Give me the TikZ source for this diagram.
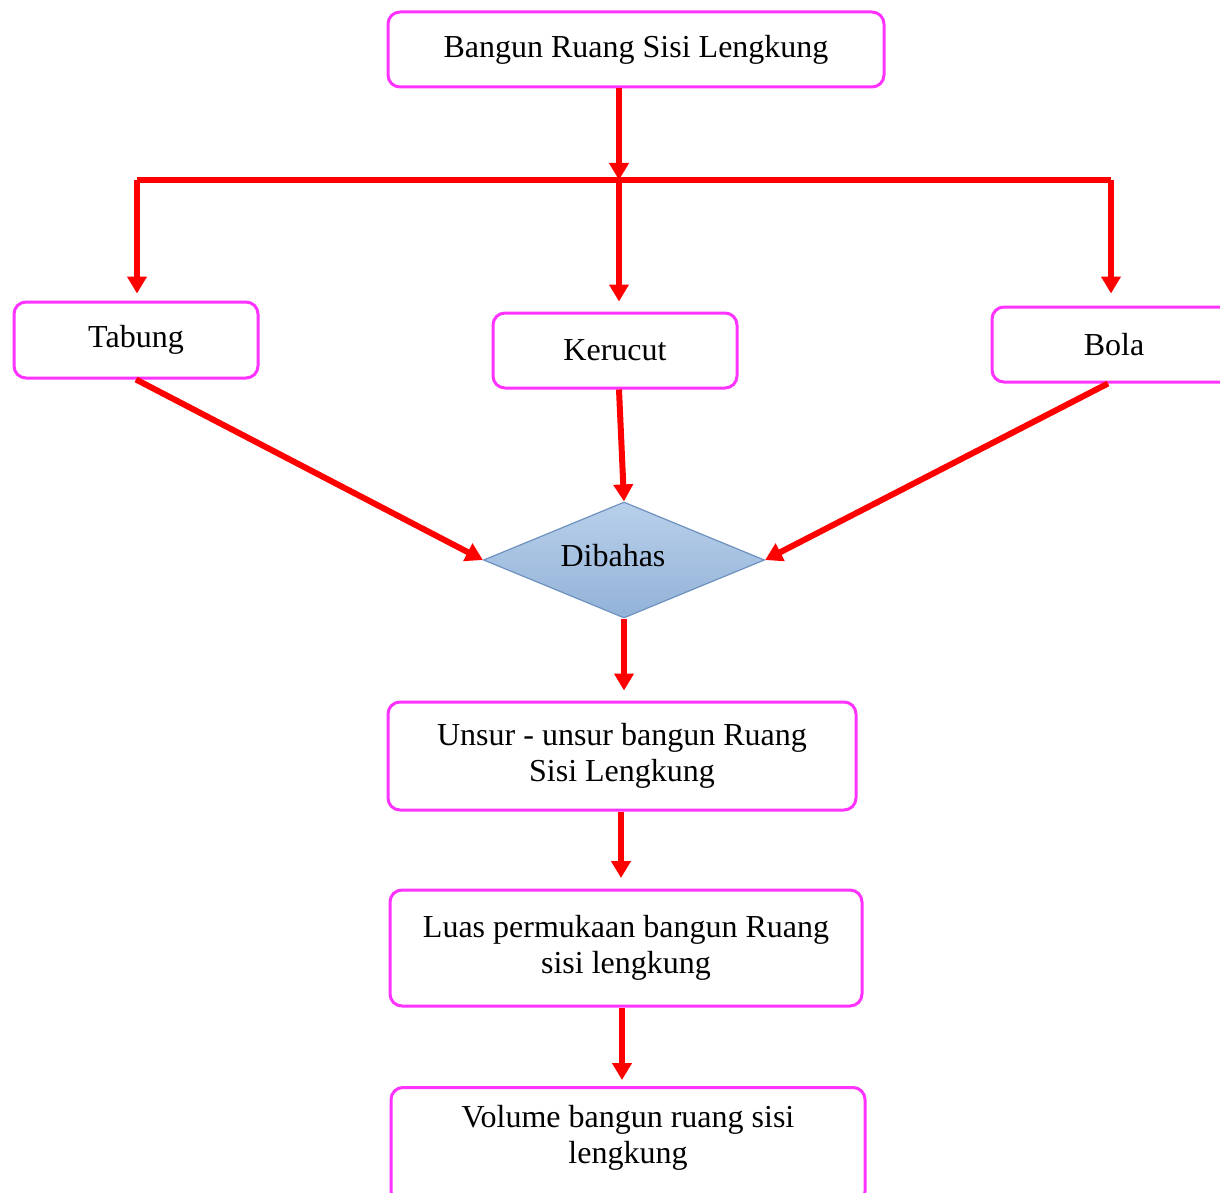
\documentclass[tikz,border=0pt]{standalone}
\usepackage{fontspec}
\setmainfont{Liberation Serif}
\usetikzlibrary{arrows.meta,shapes.geometric}
\definecolor{boxline}{HTML}{FF33FF}
\definecolor{arrowred}{HTML}{FF0000}
\definecolor{diatop}{HTML}{B8D0EA}
\definecolor{diabot}{HTML}{93B2D8}
\definecolor{diaedge}{HTML}{6E92C0}
\tikzset{
  flowbox/.style={draw=boxline, line width=3pt, rounded corners=12pt, fill=white,
    align=center, inner sep=0pt, font=\fontsize{32}{36}\selectfont},
  decision/.style={diamond, draw=diaedge, line width=1.2pt, top color=diatop, bottom color=diabot,
    inner sep=0pt, font=\fontsize{32}{36}\selectfont},
  flow/.style={draw=arrowred, line width=6pt, -{Triangle[length=17pt,width=19pt]}},
  plainflow/.style={draw=arrowred, line width=6pt}
}
\begin{document}
\begin{tikzpicture}[x=1pt,y=-1pt]
\clip (0,0) rectangle (1220,1193);
\fill[white] (0,0) rectangle (1220,1193);
% nodes
\node[flowbox, minimum width=496pt, minimum height=75pt] (top) at (636,49.5) {Bangun Ruang Sisi Lengkung};
\node[flowbox, minimum width=244pt, minimum height=76pt] (tabung) at (136,340) {Tabung};
\node[flowbox, minimum width=244pt, minimum height=75pt] (kerucut) at (615,350.5) {Kerucut};
\node[flowbox, minimum width=244pt, minimum height=75pt] (bola) at (1114,344.5) {Bola};
\node[decision, minimum width=281pt, minimum height=116pt, aspect=2.42] (dibahas) at (624,560) {};
\node[font=\fontsize{32}{36}\selectfont] (dibahastext) at (613,556) {Dibahas};
\node[flowbox, minimum width=468pt, minimum height=108pt] (unsur) at (622,756) {Unsur - unsur bangun Ruang\\Sisi Lengkung};
\node[flowbox, minimum width=472pt, minimum height=116pt] (luas) at (626,948) {Luas permukaan bangun Ruang\\sisi lengkung};
\node[flowbox, minimum width=474pt, minimum height=116pt, anchor=north] (volume) at (628,1086) {};
\node[font=\fontsize{32}{36}\selectfont, align=center] (volumetext) at (628,1138) {Volume bangun ruang sisi\\lengkung};
% junction coordinates
\coordinate (J) at (619,180);
\coordinate (L) at (137,180);
\coordinate (R) at (1111,180);
% connectors
\draw[plainflow] (L) -- (R);
\draw[flow] (top.south -| J) -- (J);
\draw[flow, shorten >=7pt] (L) -- (L |- tabung.north);
\draw[flow, shorten >=10pt] (J) -- (J |- kerucut.north);
\draw[flow, shorten >=12pt] (R) -- (R |- bola.north);
\draw[flow] (tabung.south) -- (dibahas.west);
\draw[flow] (kerucut.south -| J) -- (dibahas.north);
\draw[flow] ([xshift=-6pt]bola.south) -- (dibahas.east);
\draw[flow, shorten >=10pt] (dibahas.south) -- (dibahas.south |- unsur.north);
\draw[flow, shorten >=12pt] (unsur.south -| 621,0) -- (621,890);
\draw[flow, shorten >=6pt] (luas.south -| 622,0) -- (622,1086);
\end{tikzpicture}
\end{document}
